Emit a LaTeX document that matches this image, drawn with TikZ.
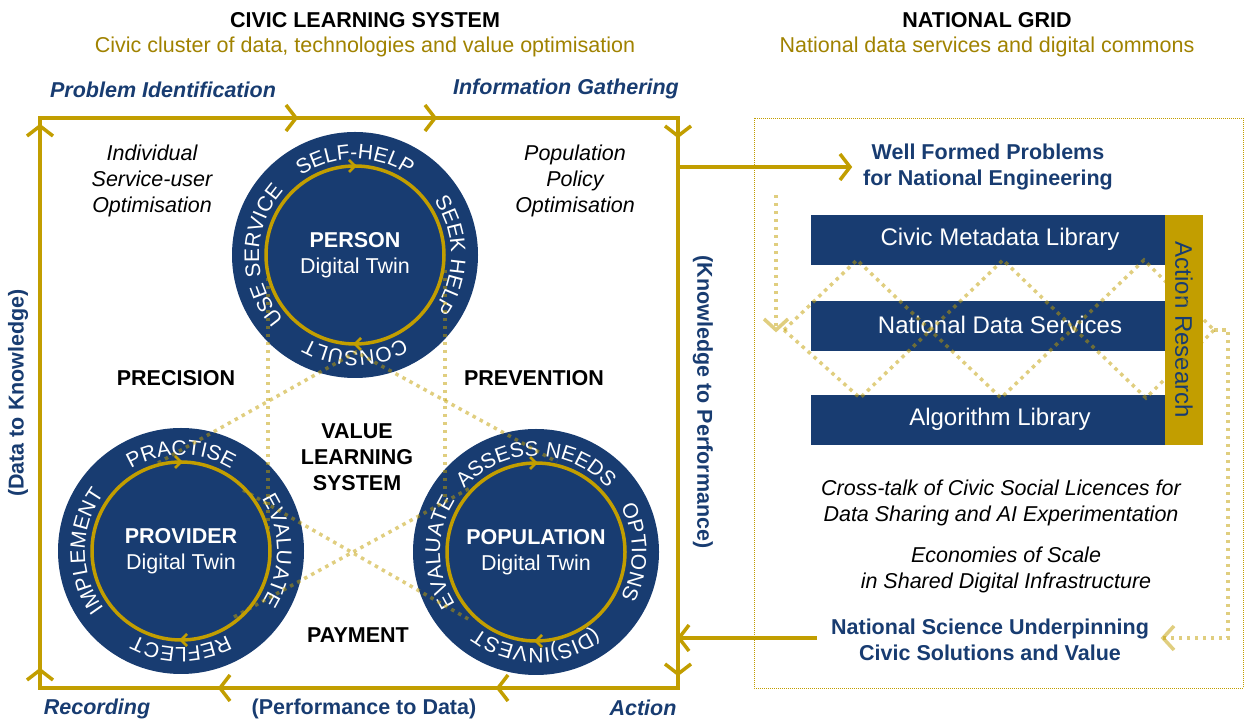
\documentclass[tikz,border=0pt]{standalone}
\usepackage{fontspec}
\setmainfont{Liberation Sans}
\usetikzlibrary{decorations.text}
\definecolor{navy}{RGB}{24,60,113}
\definecolor{gold}{RGB}{194,158,0}
\definecolor{subgold}{RGB}{160,130,0}
\newcommand\ringfont{\fontsize{21}{21}\selectfont\color{white}}
\tikzset{
  goldline/.style={draw=gold, line width=3.5pt},
  dots/.style={draw=gold, draw opacity=0.5, line width=3.5pt, dash pattern=on 3.5pt off 4.5pt},
  thindots/.style={draw=gold, line width=0.8pt, dash pattern=on 0.9pt off 1.1pt},
  chev/.pic={\draw[gold, line width=3.5pt] (-10,13) -- (0,0) -- (-10,-13);},
  lchev/.pic={\draw[gold, draw opacity=0.5, line width=3.5pt] (-11,12) -- (0,0) -- (-11,-12);},
  schev/.pic={\draw[gold, line width=2.5pt] (-6,6) -- (0,0) -- (-6,-6);},
  tBase/.style={inner sep=0pt, align=center},
  tPlain/.style={tBase, font=\fontsize{21.5}{26}\selectfont},
  tBold/.style={tBase, font=\fontsize{21.5}{26}\selectfont\bfseries},
  tItal/.style={tBase, font=\fontsize{21.5}{26}\selectfont\itshape},
  tBItal/.style={tBase, font=\fontsize{21.5}{26}\selectfont\bfseries\itshape, text=navy},
  tNavy/.style={tBase, font=\fontsize{21.5}{26}\selectfont\bfseries, text=navy},
  tTwin/.style={tBase, text=white, font=\fontsize{21.5}{26}\selectfont},
  tBar/.style={tBase, text=white, font=\fontsize{24}{24}\selectfont},
  twin/.style={circle, fill=navy, minimum size=246pt, inner sep=0pt},
  barbox/.style={fill=navy, minimum width=379pt, minimum height=50pt, inner sep=0pt},
}
\newcommand\ringtext[5]{%
  \path[decorate,decoration={text along path,text align=center,text={|\ringfont|#2}}]
    (#1.center) ++(170:96pt) arc[start angle=170,end angle=10,radius=96pt];
  \path[decorate,decoration={text along path,text align=center,text={|\ringfont|#3}}]
    (#1.center) ++(80:96pt) arc[start angle=80,end angle=-80,radius=96pt];
  \path[decorate,decoration={text along path,text align=center,text={|\ringfont|#4}}]
    (#1.center) ++(350:96pt) arc[start angle=350,end angle=190,radius=96pt];
  \path[decorate,decoration={text along path,text align=center,text={|\ringfont|#5}}]
    (#1.center) ++(260:96pt) arc[start angle=260,end angle=100,radius=96pt];
}
\newcommand\innerring[1]{%
  \draw[gold, line width=3.5pt] (#1.center) circle[radius=89pt];
  \pic at ([yshift=89pt]#1.center) {schev};
  \pic[rotate=180] at ([yshift=-89pt]#1.center) {schev};
}
\begin{document}
\begin{tikzpicture}[x=1pt,y=1pt]
\useasboundingbox (0,0) rectangle (1245,720);

% headings
\node[tBold] (t1) at (365,700) {CIVIC LEARNING SYSTEM};
\node[tPlain, text=subgold] (t1s) at (365,673) {Civic cluster of data, technologies and value optimisation};
\node[tBold] (t2) at (987,700) {NATIONAL GRID};
\node[tPlain, text=subgold] (t2s) at (987,673) {National data services and digital commons};

% cycle labels
\node[tBItal] (pi) at (163,630) {Problem Identification};
\node[tBItal] (ig) at (566,631) {Information Gathering};
\node[tBItal] (rec) at (97,11) {Recording};
\node[tNavy] (pd) at (364,11) {(Performance to Data)};
\node[tBItal] (act) at (643,12) {Action};
\node[tNavy, rotate=90] (dk) at (18,327) {(Data to Knowledge)};
\node[tNavy, rotate=-90] (kp) at (703,318) {(Knowledge to Performance)};

% main cycle box
\coordinate (bl) at (40,32);
\coordinate (tl) at (40,602);
\coordinate (tr) at (678,602);
\coordinate (br) at (678,32);
\draw[goldline, line join=miter] (bl) -- (tl) -- (tr) -- (br) -- cycle;
\pic at (296,602) {chev};
\pic at (435,602) {chev};
\pic[rotate=-90] at (678,584) {chev};
\pic[rotate=-90] at (678,46) {chev};
\pic[rotate=180] at (220,32) {chev};
\pic[rotate=180] at (498,32) {chev};
\pic[rotate=90] at (40,594) {chev};
\pic[rotate=90] at (40,50) {chev};

% corner texts
\node[tItal] (indiv) at (152,539) {Individual\\Service-user\\Optimisation};
\node[tItal] (popp) at (575,539) {Population\\Policy\\Optimisation};
\node[tBold] (prec) at (176,342) {PRECISION};
\node[tBold] (prev) at (534,342) {PREVENTION};
\node[tBold] (vls) at (357,263) {VALUE\\LEARNING\\SYSTEM};
\node[tBold] (pay) at (358,85) {PAYMENT};

% digital twins
\node[twin] (person) at (355,465) {};
\node[twin] (provider) at (181,169) {};
\node[twin] (population) at (536,168) {};
\innerring{person}
\innerring{provider}
\innerring{population}
\ringtext{person}{SELF-HELP}{SEEK HELP}{CONSULT}{USE SERVICE}
\ringtext{provider}{PRACTISE}{EVALUATE}{REFLECT}{IMPLEMENT}
\ringtext{population}{ASSESS NEEDS}{OPTIONS}{(DIS)INVEST}{EVALUATE}
\node[tTwin] (personT) at (person.center) {\textbf{PERSON}\\Digital Twin};
\node[tTwin] (providerT) at (provider.center) {\textbf{PROVIDER}\\Digital Twin};
\node[tTwin] (populationT) at (population.center) {\textbf{POPULATION}\\Digital Twin};

% value learning lattice
\coordinate (a0) at (356,368);
\coordinate (a1) at (158,257);
\coordinate (b1) at (557,258);
\coordinate (c0) at (243,230);
\coordinate (c1) at (470,100);
\coordinate (d0) at (234,103);
\coordinate (d1) at (472,233);
\coordinate (v1a) at (268,442);
\coordinate (v1b) at (268,187);
\coordinate (v2a) at (445,450);
\coordinate (v2b) at (445,220);
\draw[dots] (a1) -- (a0) -- (b1);
\draw[dots] (c0) -- (c1);
\draw[dots] (d0) -- (d1);
\draw[dots] (v1a) -- (v1b);
\draw[dots] (v2a) -- (v2b);

% national grid panel
\draw[thindots] (754,602) rectangle (1243,32);
\coordinate (wfs) at (678,553);
\coordinate (wfe) at (850,553);
\draw[goldline] (wfs) -- (wfe);
\pic at (wfe) {chev};
\node[tNavy] (wfp) at (988,553) {Well Formed Problems\\for National Engineering};

\node[barbox] (bar1) at (1000.5,480) {};
\node[barbox] (bar2) at (1000.5,394) {};
\node[barbox] (bar3) at (1000.5,300) {};
\node[tBar] (bar1t) at (1000,481) {Civic Metadata Library};
\node[tBar] (bar2t) at (1000,395) {National Data Services};
\node[tBar] (bar3t) at (1000,301) {Algorithm Library};
\node[fill=gold, minimum width=38pt, minimum height=230pt, inner sep=0pt] (ar) at (1184,390) {};
\node[tBar, text=navy, rotate=-90] (art) at (1184,390) {Action Research};

% zigzags
\coordinate (zl) at (784,390);
\coordinate (zr) at (1214,390);
\draw[dots] (zl) -- (857,460) -- (1001,322) -- (1144,460) -- (zr);
\draw[dots] (zl) -- (860,322) -- (1003,460) -- (1146,322) -- (zr);
\coordinate (ldt) at (776,525);
\coordinate (ldb) at (776,390);
\draw[dots] (ldt) -- (ldb);
\pic[rotate=-90] at (ldb) {lchev};
\coordinate (rdc) at (1228,390);
\coordinate (rdb) at (1228,82);
\coordinate (rde) at (1163,82);
\draw[dots] (zr) -- (rdc) -- (rdb) -- (rde);
\pic[rotate=180] at (rde) {lchev};

\node[tItal] (xt) at (1001,217) {Cross-talk of Civic Social Licences for\\Data Sharing and AI Experimentation};
\node[tItal] (es) at (1006,150) {Economies of Scale\\in Shared Digital Infrastructure};
\node[tNavy] (ns) at (990,80) {National Science Underpinning\\Civic Solutions and Value};
\coordinate (nss) at (817,82);
\coordinate (nse) at (679,82);
\draw[goldline] (nss) -- (nse);
\pic[rotate=180] at (nse) {chev};
\end{tikzpicture}
\end{document}
